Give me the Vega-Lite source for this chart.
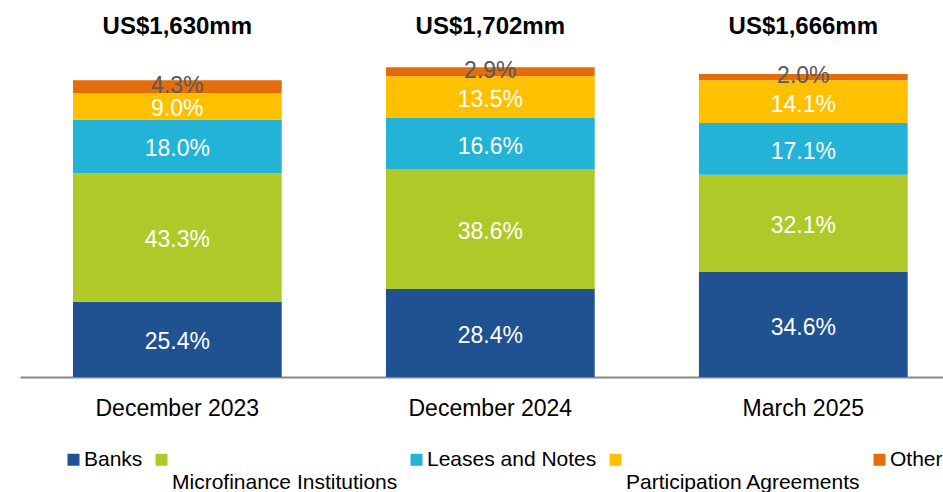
{
  "$schema": "https://vega.github.io/schema/vega-lite/v6.json",
  "width": 923,
  "height": 364,
  "autosize": {"type": "none"},
  "padding": {"left": 20, "top": 13, "right": 0, "bottom": 115},
  "config": {"view": {"stroke": null}, "font": "Liberation Sans"},
  "datasets": {
    "segments": [
      {"period": "December 2023", "category": "Banks", "ord": 1, "pct": 0.254, "amount": 414.0},
      {"period": "December 2023", "category": "Microfinance Institutions", "ord": 2, "pct": 0.433, "amount": 705.8},
      {"period": "December 2023", "category": "Leases and Notes", "ord": 3, "pct": 0.180, "amount": 293.4},
      {"period": "December 2023", "category": "Participation Agreements", "ord": 4, "pct": 0.090, "amount": 146.7},
      {"period": "December 2023", "category": "Other", "ord": 5, "pct": 0.043, "amount": 70.1},
      {"period": "December 2024", "category": "Banks", "ord": 1, "pct": 0.284, "amount": 483.4},
      {"period": "December 2024", "category": "Microfinance Institutions", "ord": 2, "pct": 0.386, "amount": 657.0},
      {"period": "December 2024", "category": "Leases and Notes", "ord": 3, "pct": 0.166, "amount": 282.5},
      {"period": "December 2024", "category": "Participation Agreements", "ord": 4, "pct": 0.135, "amount": 229.8},
      {"period": "December 2024", "category": "Other", "ord": 5, "pct": 0.029, "amount": 49.4},
      {"period": "March 2025", "category": "Banks", "ord": 1, "pct": 0.346, "amount": 576.4},
      {"period": "March 2025", "category": "Microfinance Institutions", "ord": 2, "pct": 0.321, "amount": 534.8},
      {"period": "March 2025", "category": "Leases and Notes", "ord": 3, "pct": 0.171, "amount": 284.9},
      {"period": "March 2025", "category": "Participation Agreements", "ord": 4, "pct": 0.141, "amount": 234.9},
      {"period": "March 2025", "category": "Other", "ord": 5, "pct": 0.020, "amount": 33.3}
    ],
    "totals": [
      {"period": "December 2023", "label": "US$1,630mm"},
      {"period": "December 2024", "label": "US$1,702mm"},
      {"period": "March 2025", "label": "US$1,666mm"}
    ]
  },
  "encoding": {
    "x": {
      "field": "period",
      "type": "nominal",
      "sort": ["December 2023", "December 2024", "March 2025"],
      "scale": {"paddingInner": 0.333, "paddingOuter": 0.141, "align": 0.6},
      "axis": {
        "title": null,
        "ticks": false,
        "domainColor": "#878787",
        "domainWidth": 2,
        "labelAngle": 0,
        "labelFontSize": 23,
        "labelColor": "#000000",
        "labelPadding": 20,
        "labelFont": "Liberation Sans"
      }
    }
  },
  "layer": [
    {
      "data": {"name": "segments"},
      "transform": [
        {"stack": "amount", "groupby": ["period"], "sort": [{"field": "ord", "order": "ascending"}], "as": ["y0", "y1"]}
      ],
      "mark": {"type": "bar"},
      "encoding": {
        "y": {"field": "y0", "type": "quantitative", "scale": {"domain": [0, 2000]}, "axis": null},
        "y2": {"field": "y1"},
        "color": {
          "field": "category",
          "type": "nominal",
          "scale": {
            "domain": ["Banks", "Microfinance Institutions", "Leases and Notes", "Participation Agreements", "Other"],
            "range": ["#205191", "#AFCA28", "#22B3D6", "#FFC000", "#E46C0A"]
          },
          "legend": {
            "title": null,
            "orient": "none",
            "legendX": 43,
            "legendY": 436,
            "direction": "horizontal",
            "symbolType": "square",
            "symbolSize": 144,
            "symbolStrokeWidth": 0,
            "labelFontSize": 21,
            "labelFont": "Liberation Sans",
            "labelColor": "#000000",
            "labelOffset": 0,
            "labelLimit": 400,
            "labelLineHeight": 23,
            "columnPadding": 8,
            "labelExpr": "datum.label == 'Microfinance Institutions' || datum.label == 'Participation Agreements' ? ['', datum.label] : [datum.label, '']"
          }
        }
      }
    },
    {
      "data": {"name": "segments"},
      "transform": [
        {"stack": "amount", "groupby": ["period"], "sort": [{"field": "ord", "order": "ascending"}], "as": ["y0", "y1"]},
        {"calculate": "(datum.y0 + datum.y1) / 2", "as": "mid"},
        {"filter": "datum.category != 'Other'"}
      ],
      "mark": {"type": "text", "fontSize": 23, "color": "#FFFFFF", "baseline": "middle", "align": "center", "dy": 3},
      "encoding": {
        "y": {"field": "mid", "type": "quantitative"},
        "text": {"field": "pct", "type": "quantitative", "format": ".1%"}
      }
    },
    {
      "data": {"name": "segments"},
      "transform": [
        {"stack": "amount", "groupby": ["period"], "sort": [{"field": "ord", "order": "ascending"}], "as": ["y0", "y1"]},
        {"calculate": "(datum.y0 + datum.y1) / 2", "as": "mid"},
        {"filter": "datum.category == 'Other'"}
      ],
      "mark": {"type": "text", "fontSize": 23, "color": "#595959", "baseline": "middle", "align": "center", "dy": -1},
      "encoding": {
        "y": {"field": "mid", "type": "quantitative"},
        "text": {"field": "pct", "type": "quantitative", "format": ".1%"}
      }
    },
    {
      "data": {"name": "totals"},
      "mark": {"type": "text", "fontSize": 24, "fontWeight": "bold", "color": "#000000", "baseline": "middle", "align": "center", "dy": 14},
      "encoding": {
        "y": {"datum": 2000, "type": "quantitative"},
        "text": {"field": "label", "type": "nominal"}
      }
    }
  ]
}
